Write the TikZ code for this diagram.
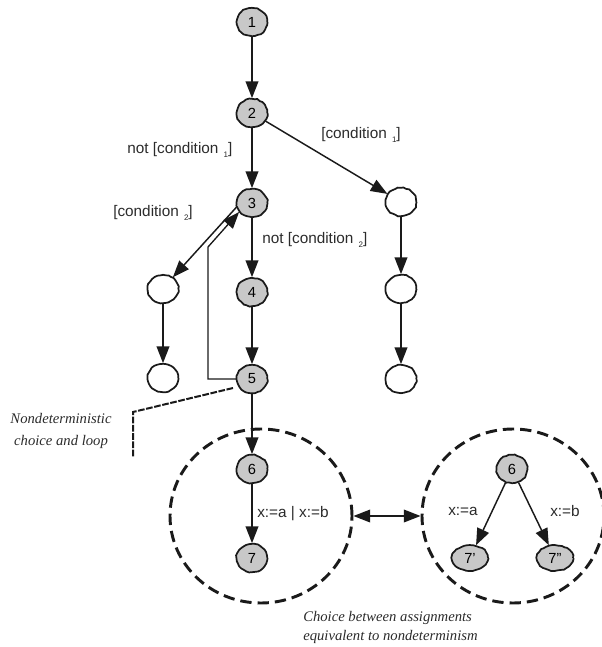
\documentclass[tikz,border=0pt]{standalone}
\usepackage{fontspec}
\setmainfont{Liberation Sans}
\newfontfamily\notefont{Liberation Serif}
\usepackage{tikz}
\usetikzlibrary{arrows.meta,shapes.geometric,decorations.pathmorphing}
\definecolor{ink}{HTML}{1A1A1A}
\definecolor{stfill}{HTML}{C8C8C8}
\definecolor{labtext}{HTML}{2B2B2B}
\tikzset{
  state/.style={ellipse, draw=ink, line width=1.3pt, fill=stfill, inner sep=0pt,
    minimum width=23pt, minimum height=21pt, font=\fontsize{11}{12}\selectfont,
    decorate, decoration={random steps, segment length=2.2pt, amplitude=0.35pt}},
  open/.style={state, fill=white},
  wide/.style={state, minimum width=27pt, minimum height=19pt},
  flow/.style={draw=ink, line width=1.1pt, -{Triangle[length=12.5pt,width=9.5pt]}},
  twoway/.style={draw=ink, line width=1.1pt,
    {Triangle[length=12.5pt,width=9.5pt]}-{Triangle[length=12.5pt,width=9.5pt]}},
  loopline/.style={draw=ink, line width=1pt, -{Triangle[length=12.5pt,width=9.5pt]}},
  group/.style={ellipse, draw=ink, line width=2.2pt, dash pattern=on 8.5pt off 4.5pt,
    minimum width=136.5pt, minimum height=130.5pt},
  note/.style={draw=ink, line width=1.5pt, dash pattern=on 5pt off 1.2pt},
  lab/.style={text=labtext, font=\fontsize{11.5}{13}\selectfont, inner sep=0pt},
  labn/.style={text=labtext, font=\notefont\itshape\fontsize{11}{16.5}\selectfont, inner sep=0pt},
}
\newcommand{\lowidx}[1]{\,\,\raisebox{-2.5pt}{\fontsize{6}{6}\selectfont #1}}
\pgfmathsetseed{7}

\begin{document}
\begin{tikzpicture}[x=0.75pt, y=-0.75pt]
  \useasboundingbox (0,0) rectangle (602,647);

  % main chain
  \node[state] (n1) at (252,22) {1};
  \node[state] (n2) at (252,113) {2};
  \node[state] (n3) at (252,203) {3};
  \node[state] (n4) at (252,292) {4};
  \node[state] (n5) at (252,379) {5};
  % side branches
  \node[open] (r1) at (401,202) {};
  \node[open] (r2) at (401,289) {};
  \node[open] (r3) at (401,379) {};
  \node[open] (l1) at (163,289) {};
  \node[open] (l2) at (163,378) {};

  \draw[flow] (n1) -- (n2);
  \draw[flow] (n2) -- (n3);
  \draw[flow] (n3) -- (n4);
  \draw[flow] (n4) -- (n5);
  \draw[flow] (n2) -- (r1);
  \draw[flow] (r1) -- (r2);
  \draw[flow] (r2) -- (r3);
  \draw[flow] (n3.195) -- (l1.50);
  \draw[flow] (l1) -- (l2);

  \coordinate (loopA) at (208,379);
  \coordinate (loopB) at (208,247);
  \draw[loopline] (n5.west) -- (loopA) -- (loopB) -- (n3.215);

  \node[lab, anchor=west] (c1no) at (127,150) {not [condition\lowidx{1}]};
  \node[lab, anchor=west] (c1) at (321,135) {[condition\lowidx{1}]};
  \node[lab, anchor=west] (c2) at (113,213) {[condition\lowidx{2}]};
  \node[lab, anchor=west] (c2no) at (262,240) {not [condition\lowidx{2}]};

  % annotation
  \coordinate (noteTip) at (233,388);
  \coordinate (noteBend) at (133,412);
  \coordinate (noteEnd) at (133,457);
  \draw[note] (noteTip) -- (noteBend) -- (noteEnd);
  \node[labn, align=center] (noteTxt) at (61,431) {Nondeterministic\\choice and loop};

  % the two equivalent forms
  \node[group] (grpL) at (261,516) {};
  \node[group] (grpR) at (513,516) {};
  \node[state] (n6) at (252,469) {6};
  \node[state] (n7) at (252,558) {7};
  \node[state] (m6) at (512,469) {6};
  \node[wide] (m7a) at (470,558) {7'};
  \node[wide] (m7b) at (555,558) {7''};

  \draw[flow] (n5) -- (n6);
  \draw[flow] (n6) -- (n7);
  \draw[flow] (m6) -- (m7a);
  \draw[flow] (m6) -- (m7b);
  \draw[twoway] (grpL.east) -- (grpR.west);

  \node[lab, anchor=west] (asg) at (257,514) {x:=a | x:=b};
  \node[lab, anchor=west] (asga) at (448,511) {x:=a};
  \node[lab, anchor=west] (asgb) at (550,511) {x:=b};

  \node[labn, align=left, anchor=west, font=\notefont\itshape\fontsize{11}{14.25}\selectfont]
    (capTxt) at (303,627) {Choice between assignments\\equivalent to nondeterminism};
\end{tikzpicture}
\end{document}
